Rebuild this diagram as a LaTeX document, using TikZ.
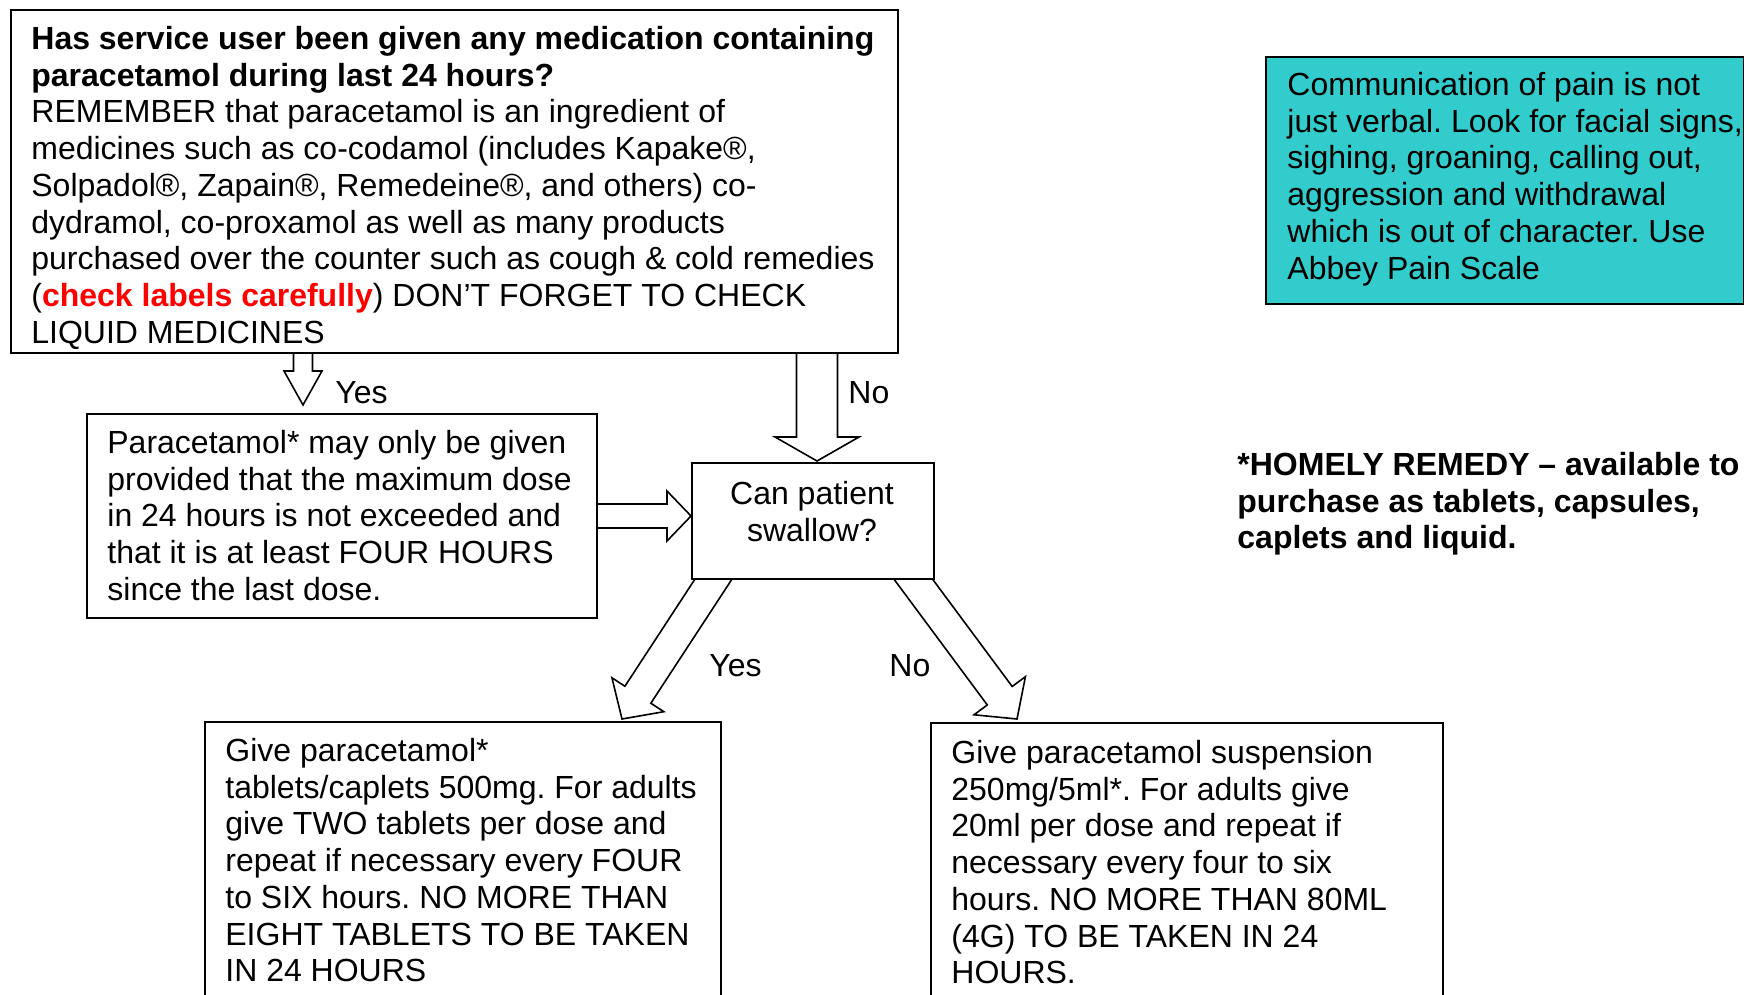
\documentclass[tikz,border=0pt]{standalone}
\usepackage{fontspec}
\setmainfont{Liberation Sans}
\usepackage{xcolor}
\usetikzlibrary{positioning, calc, backgrounds}
\frenchspacing
\definecolor{PainTeal}{RGB}{51,204,204}
\definecolor{CheckRed}{RGB}{255,0,0}
\tikzset{
  box/.style={draw, line width=1pt, fill=white, anchor=north west, inner sep=0pt},
  txt/.style={anchor=north west, inner sep=0pt, align=left, font=\fontsize{16}{18.35}\selectfont},
  tag/.style={anchor=west, inner sep=0pt, font=\fontsize{16}{18.35}\selectfont},
  blk/.style={draw, line width=0.8pt, fill=white, line join=miter}
}
% block arrow: start, tip, shaft half width, head half width, head length
\newcommand{\blockarrow}[5]{%
  \coordinate (ba) at ($(#2)!#5!(#1)$);
  \draw[blk] ($(#1)!#3!90:(#2)$) -- ($(ba)!#3!90:(#2)$) -- ($(ba)!#4!90:(#2)$)
    -- (#2) -- ($(ba)!#4!-90:(#2)$) -- ($(ba)!#3!-90:(#2)$) -- ($(#1)!#3!-90:(#2)$) -- cycle;
}

\begin{document}
\begin{tikzpicture}[x=0.5pt,y=-0.5pt]
  \useasboundingbox (0,0) rectangle (1744,995);
  \clip (0,0) rectangle (1744,995);
  % boxes
  \node[box, minimum width=443.5pt, minimum height=171.5pt] (qtop) at (10,9) {};
  \node[box, minimum width=255pt, minimum height=102pt] (qgap) at (86,413) {};
  \node[box, minimum width=121pt, minimum height=58pt] (qswl) at (691,462) {};
  \node[box, minimum width=258pt, minimum height=160pt] (qtab) at (204,721) {};
  \node[box, minimum width=256pt, minimum height=160pt] (qliq) at (930,722) {};
  \node[box, fill=PainTeal, minimum width=239pt, minimum height=123.5pt] (qpain) at (1265,56) {};
  % texts
  \node[txt] (ttop) at (31,26) {\bfseries Has service user been given any medication containing\\
    \bfseries paracetamol during last 24 hours?\\
    REMEMBER that paracetamol is an ingredient of\\
    medicines such as co-codamol (includes Kapake®,\\
    Solpadol®, Zapain®, Remedeine®, and others) co-\\
    dydramol, co-proxamol as well as many products\\
    purchased over the counter such as cough \& cold remedies\\
    (\textcolor{CheckRed}{\bfseries check labels carefully}) DON’T FORGET TO CHECK\\
    LIQUID MEDICINES};
  \node[txt] (tgap) at (107,430) {Paracetamol* may only be given\\
    provided that the maximum dose\\
    in 24 hours is not exceeded and\\
    that it is at least FOUR HOURS\\
    since the last dose.};
  \node[txt, anchor=north, align=center] (tswl) at (812,481) {Can patient\\swallow?};
  \node[txt] (ttab) at (225,738) {Give paracetamol*\\
    tablets/caplets 500mg. For adults\\
    give TWO tablets per dose and\\
    repeat if necessary every FOUR\\
    to SIX hours. NO MORE THAN\\
    EIGHT TABLETS TO BE TAKEN\\
    IN 24 HOURS};
  \node[txt] (tliq) at (951,740) {Give paracetamol suspension\\
    250mg/5ml*. For adults give\\
    20ml per dose and repeat if\\
    necessary every four to six\\
    hours. NO MORE THAN 80ML\\
    (4G) TO BE TAKEN IN 24\\
    HOURS.};
  \node[txt] (tpain) at (1287,72) {Communication of pain is not\\
    just verbal. Look for facial signs,\\
    sighing, groaning, calling out,\\
    aggression and withdrawal\\
    which is out of character. Use\\
    Abbey Pain Scale};
  \node[txt, font=\fontsize{16}{18.35}\selectfont\bfseries] (thome) at (1237,452) {*HOMELY REMEDY – available to\\
    purchase as tablets, capsules,\\
    caplets and liquid.};
  % answer labels
  \node[tag] (yes1) at (335,393) {Yes};
  \node[tag] (no1) at (848,393) {No};
  \node[tag] (yes2) at (709,666) {Yes};
  \node[tag] (no2) at (889,666) {No};
  % arrow ends
  \coordinate (a1s) at ($(qtop.south west)+(293,-12)$);
  \coordinate (a1e) at ($(qgap.north west)+(217,-8)$);
  \coordinate (a2s) at ($(qtop.south west)+(807,-12)$);
  \coordinate (a2e) at ($(qswl.north west)+(126,-1)$);
  \coordinate (a3s) at ($(qgap.east)+(-11,0)$);
  \coordinate (a3e) at (qgap.east -| qswl.west);
  \coordinate (a4s) at ($(qswl.south west)+(33,-17)$);
  \coordinate (a4e) at ($(qtab.north west)+(418,-2)$);
  \coordinate (a5s) at ($(qswl.south west)+(211,-16)$);
  \coordinate (a5e) at ($(qliq.north west)+(87,-3)$);
  \begin{scope}[on background layer]
    \blockarrow{a1s}{a1e}{4.75pt}{9.5pt}{17pt}
    \blockarrow{a2s}{a2e}{10.25pt}{21pt}{12pt}
    \blockarrow{a3s}{a3e}{6pt}{12.5pt}{12pt}
    \blockarrow{a4s}{a4e}{7.75pt}{15.5pt}{14.5pt}
    \blockarrow{a5s}{a5e}{7.75pt}{16pt}{14.5pt}
  \end{scope}
\end{tikzpicture}
\end{document}
